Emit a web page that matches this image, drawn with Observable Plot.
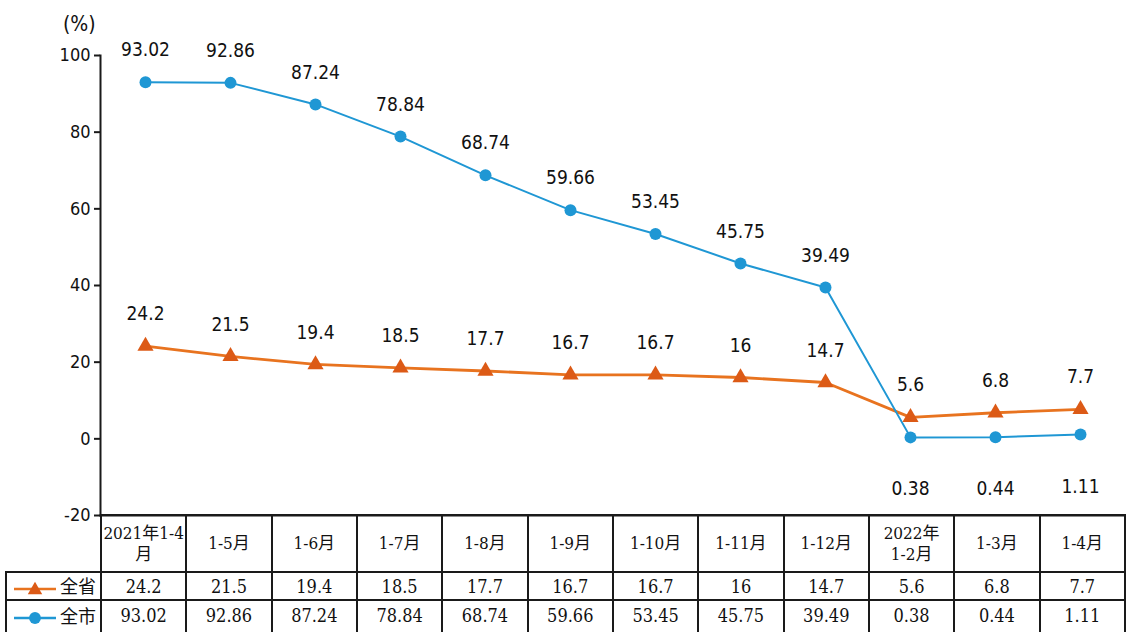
<!DOCTYPE html>
<html>
<head>
<meta charset="utf-8">
<script src="https://cdn.jsdelivr.net/npm/d3@7"></script>
<script src="https://cdn.jsdelivr.net/npm/@observablehq/plot@0.6"></script>
<style>
  html, body { margin: 0; padding: 0; background: #fff; }
  #wrap { position: relative; width: 1126px; height: 632px; overflow: hidden; background: #fff; }
  #unit { position: absolute; left: 63px; top: 12px; font-size: 21px; color: #111;
          font-family: "DejaVu Sans", "Noto Sans CJK SC", sans-serif; font-stretch: condensed; }
  #chart { position: absolute; left: 0; top: 0; }
  table { position: absolute; left: 5px; top: 514px; border-collapse: collapse; table-layout: fixed;
          font-family: "DejaVu Serif", "Liberation Serif", "Noto Sans CJK SC", serif; font-stretch: condensed; color: #111; }
  td { border: 2px solid #1a1a1a; text-align: center; padding: 0; font-size: 17px; line-height: 21px; }
  td.blank { border-top: none; border-left: none; border-bottom: 2px solid #1a1a1a; }
  tr.head td { height: 55px; }
  tr.r1 td { height: 26px; font-size: 18px; }
  tr.r2 td { height: 34px; font-size: 18px; vertical-align: top; padding-top: 4px; }
  td.leg { text-align: left; white-space: nowrap; font-family: "Noto Sans CJK SC", sans-serif; font-size: 18px; padding-left: 3px; }
  td.leg svg { vertical-align: middle; margin-right: 4px; }
</style>
</head>
<body>
<div id="wrap">
  <div id="chart"></div>
  <div id="unit">(%)</div>
</div>
<script>
// ---- data ----
const categories = ["2021年1-4月", "1-5月", "1-6月", "1-7月", "1-8月", "1-9月", "1-10月", "1-11月", "1-12月", "2022年1-2月", "1-3月", "1-4月"];
const headerLabels = ["2021年1-4\n月", "1-5月", "1-6月", "1-7月", "1-8月", "1-9月", "1-10月", "1-11月", "1-12月", "2022年\n1-2月", "1-3月", "1-4月"];
const provinceValues = [24.2, 21.5, 19.4, 18.5, 17.7, 16.7, 16.7, 16, 14.7, 5.6, 6.8, 7.7];
const cityValues = [93.02, 92.86, 87.24, 78.84, 68.74, 59.66, 53.45, 45.75, 39.49, 0.38, 0.44, 1.11];
const yTicks = [-20, 0, 20, 40, 60, 80, 100];
const seriesNames = ["全省", "全市"];

// ---- style ----
const W = 1126, ML = 100, MR = 1;
const orange = "#e8731f", orangeMark = "#dc5a16", blue = "#1f97d4";
const labelFont = '"DejaVu Sans", "Noto Sans CJK SC", sans-serif';

const provRows = categories.map((c, i) => ({cat: c, v: provinceValues[i], i}));
const cityRows = categories.map((c, i) => ({cat: c, v: cityValues[i], i}));

const chart = Plot.plot({
  width: W, height: 516,
  marginLeft: ML, marginRight: MR, marginTop: 55, marginBottom: 1,
  style: {fontFamily: labelFont, fontStretch: "condensed", fontSize: "18px", color: "#111", background: "transparent", overflow: "visible"},
  x: {type: "point", domain: categories, padding: 0.5, axis: null},
  y: {domain: [-20, 100], axis: null},
  marks: [
    Plot.axisY({ticks: yTicks, tickFormat: d => String(d), tickSize: 6, tickPadding: 4, label: null, fontSize: 18, strokeWidth: 2, stroke: "#1a1a1a"}),
    Plot.frame({anchor: "left", stroke: "#1a1a1a", strokeWidth: 2}),
    Plot.frame({anchor: "bottom", stroke: "#1a1a1a", strokeWidth: 2}),
    Plot.line(provRows, {x: "cat", y: "v", stroke: orange, strokeWidth: 2.8}),
    Plot.line(cityRows, {x: "cat", y: "v", stroke: blue, strokeWidth: 2}),
    Plot.dot(provRows, {x: "cat", y: "v", symbol: "triangle", r: 6, fill: orangeMark, stroke: null}),
    Plot.dot(cityRows, {x: "cat", y: "v", r: 6, fill: blue, stroke: null}),
    Plot.text(provRows, {x: "cat", y: "v", text: d => String(d.v), dy: -32, fontSize: 19, fill: "#111"}),
    Plot.text(cityRows, {filter: d => d.i < 9, x: "cat", y: "v", text: d => d.v.toFixed(2), dy: -32, fontSize: 19, fill: "#111"}),
    Plot.text(cityRows, {filter: d => d.i >= 9, x: "cat", y: "v", text: d => d.v.toFixed(2), dy: 52, fontSize: 19, fill: "#111"})
  ]
});
document.getElementById("chart").appendChild(chart);

// ---- data table below the chart, columns aligned with the x scale ----
const colW = (W - ML - MR) / categories.length;
const table = document.createElement("table");
const cg = document.createElement("colgroup");
const c0 = document.createElement("col"); c0.style.width = (ML - 5) + "px"; cg.appendChild(c0);
categories.forEach(() => { const c = document.createElement("col"); c.style.width = colW + "px"; cg.appendChild(c); });
table.appendChild(cg);

const head = document.createElement("tr"); head.className = "head";
const blank = document.createElement("td"); blank.className = "blank"; head.appendChild(blank);
headerLabels.forEach(t => {
  const td = document.createElement("td");
  td.innerHTML = t.split("\n").join("<br>");
  head.appendChild(td);
});
table.appendChild(head);

function legendSvg(color, markColor, symbol) {
  const ns = "http://www.w3.org/2000/svg";
  const s = document.createElementNS(ns, "svg");
  s.setAttribute("width", 46); s.setAttribute("height", 16);
  const l = document.createElementNS(ns, "line");
  l.setAttribute("x1", 4); l.setAttribute("x2", 46); l.setAttribute("y1", 8); l.setAttribute("y2", 8);
  l.setAttribute("stroke", color); l.setAttribute("stroke-width", 2.5);
  s.appendChild(l);
  const p = document.createElementNS(ns, "path");
  p.setAttribute("d", d3.symbol(symbol === "triangle" ? d3.symbolTriangle : d3.symbolCircle, symbol === "triangle" ? 90 : 110)());
  p.setAttribute("transform", symbol === "triangle" ? "translate(25,9)" : "translate(25,8)");
  p.setAttribute("fill", markColor);
  s.appendChild(p);
  return s;
}

[[provinceValues, orange, orangeMark, "triangle", "r1", v => String(v)],
 [cityValues, blue, blue, "circle", "r2", v => v.toFixed(2)]].forEach(([vals, col, mcol, sym, cls, fmt], k) => {
  const tr = document.createElement("tr"); tr.className = cls;
  const lg = document.createElement("td"); lg.className = "leg";
  lg.appendChild(legendSvg(col, mcol, sym));
  lg.appendChild(document.createTextNode(seriesNames[k]));
  tr.appendChild(lg);
  vals.forEach(v => { const td = document.createElement("td"); td.textContent = fmt(v); tr.appendChild(td); });
  table.appendChild(tr);
});
document.getElementById("wrap").appendChild(table);
</script>
</body>
</html>
